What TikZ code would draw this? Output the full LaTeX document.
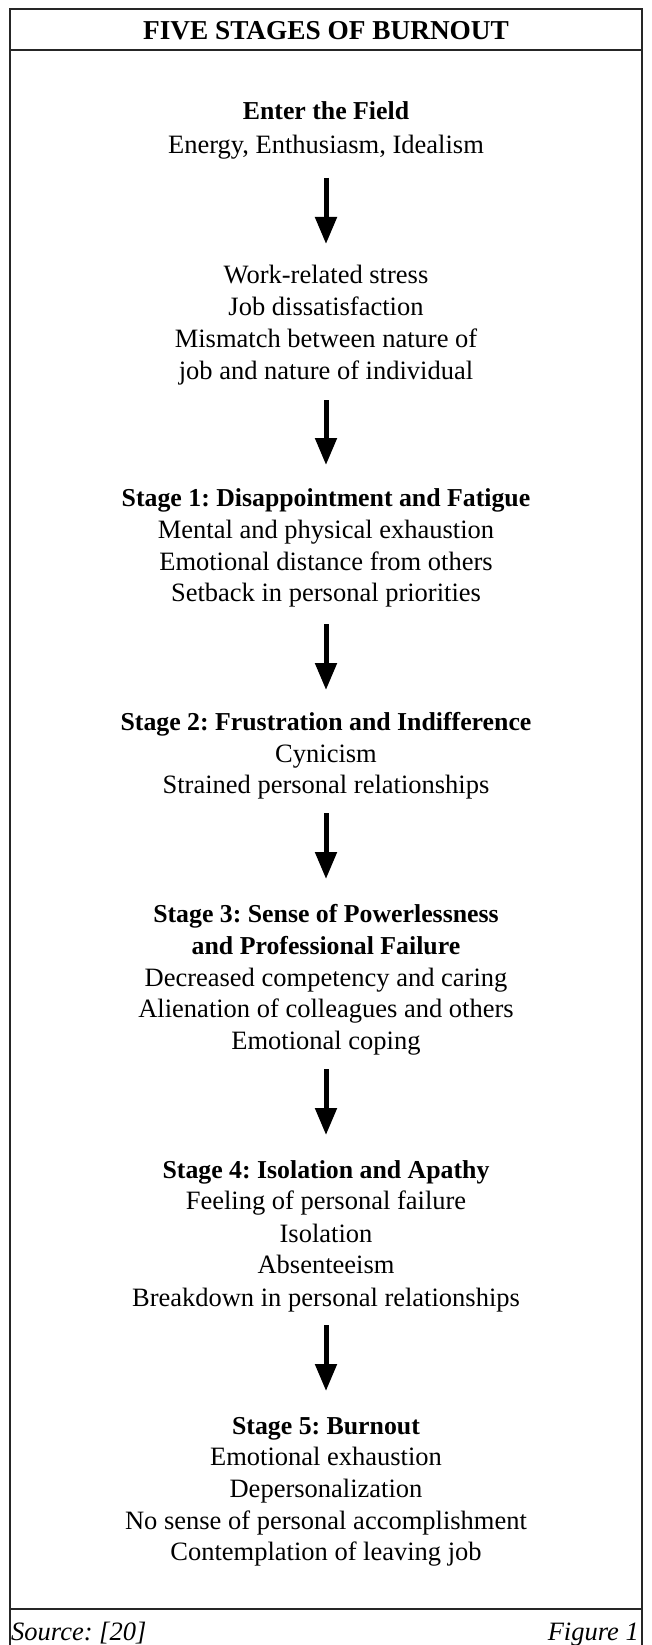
\documentclass[tikz,border=0pt]{standalone}
\usepackage{fontspec}
\setmainfont{Liberation Serif}
\usetikzlibrary{arrows.meta}
\begin{document}
\frenchspacing
\begin{tikzpicture}[x=1pt,y=-1pt,
  ln/.style={anchor=base,inner sep=0pt,font=\fontsize{26.5}{30}\selectfont},
  hd/.style={anchor=base,inner sep=0pt,font=\fontsize{25.8}{30}\selectfont\bfseries},
  ttl/.style={anchor=base,inner sep=0pt,font=\fontsize{27.3}{30}\selectfont\bfseries},
  ft/.style={anchor=base,inner sep=0pt,font=\fontsize{26.5}{30}\selectfont\itshape},
  frame/.style={line width=2pt,black!85},
  flow/.style={line width=5pt,-{Triangle[width=21pt,length=27pt]}}]
\useasboundingbox (0,0) rectangle (651,1645);
\draw[frame] (10,1650) -- (10,9) -- (642,9) -- (642,1650);
\draw[frame] (10,50) -- (642,50);
\draw[frame] (10,1609) -- (642,1609);
\node[ttl] (title) at (326,40) {FIVE STAGES OF BURNOUT};
\node[hd] (e0) at (326,120) {Enter the Field};
\node[ln] (e1) at (326,154) {Energy, Enthusiasm, Idealism};
\node[ln] (w1) at (326,283) {Work-related stress};
\node[ln] (w2) at (326,315) {Job dissatisfaction};
\node[ln] (w3) at (326,347) {Mismatch between nature of};
\node[ln] (w4) at (326,379) {job and nature of individual};
\node[hd] (s10) at (326,506) {Stage 1: Disappointment and Fatigue};
\node[ln] (s11) at (326,538) {Mental and physical exhaustion};
\node[ln] (s12) at (326,570) {Emotional distance from others};
\node[ln] (s13) at (326,601) {Setback in personal priorities};
\node[hd] (s20) at (326,730) {Stage 2: Frustration and Indifference};
\node[ln] (s21) at (326,762) {Cynicism};
\node[ln] (s22) at (326,793) {Strained personal relationships};
\node[hd] (s30) at (326,922) {Stage 3: Sense of Powerlessness};
\node[hd] (s31) at (326,954) {and Professional Failure};
\node[ln] (s32) at (326,986) {Decreased competency and caring};
\node[ln] (s33) at (326,1017) {Alienation of colleagues and others};
\node[ln] (s34) at (326,1049) {Emotional coping};
\node[hd] (s40) at (326,1178) {Stage 4: Isolation and Apathy};
\node[ln] (s41) at (326,1209) {Feeling of personal failure};
\node[ln] (s42) at (326,1242) {Isolation};
\node[ln] (s43) at (326,1273) {Absenteeism};
\node[ln] (s44) at (326,1306) {Breakdown in personal relationships};
\node[hd] (s50) at (326,1434) {Stage 5: Burnout};
\node[ln] (s51) at (326,1465) {Emotional exhaustion};
\node[ln] (s52) at (326,1497) {Depersonalization};
\node[ln] (s53) at (326,1529) {No sense of personal accomplishment};
\node[ln] (s54) at (326,1560) {Contemplation of leaving job};
\node[ft,anchor=base west] (src) at (11,1640) {Source: [20]};
\node[ft,anchor=base east] (fig) at (639,1640) {Figure 1};
\foreach \i/\a/\b in {1/178/244,2/400/465,3/624/690,4/813/879,5/1069/1135,6/1325/1391}{
  \coordinate (a\i s) at (326,\a);
  \coordinate (a\i e) at (326,\b);
  \draw[flow] (a\i s) -- (a\i e);
}
\end{tikzpicture}
\end{document}
